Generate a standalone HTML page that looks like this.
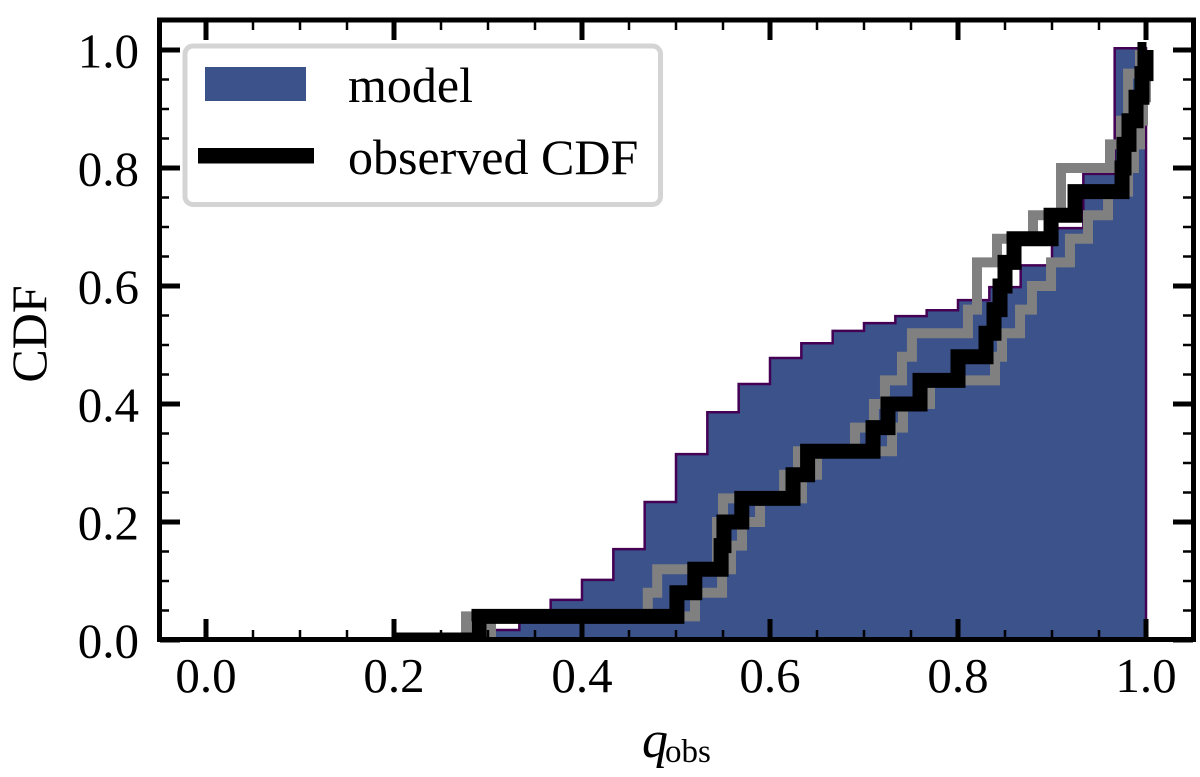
<!DOCTYPE html>
<html lang="en">
<head>
<meta charset="utf-8">
<title>CDF of q_obs</title>
<style>
html,body{margin:0;padding:0;background:#fff;}
svg{display:block;font-family:"Liberation Serif",serif;}
</style>
</head>
<body>
<svg id="chart" xmlns="http://www.w3.org/2000/svg" width="1200" height="777" viewBox="0 0 1200 777">
  <defs>
    <clipPath id="plot-clip"><rect x="160" y="20" width="1033" height="620"/></clipPath>
  </defs>
  <rect x="0" y="0" width="1200" height="777" fill="#fff"/>
  <g id="marks" clip-path="url(#plot-clip)"></g>
  <g id="ticks"></g>
  <rect x="159.5" y="20" width="1034" height="619.5" fill="none" stroke="#000" stroke-width="5"/>
  <g id="tick-labels" font-size="49" fill="#000"></g>
  <text transform="translate(46,334) rotate(-90)" text-anchor="middle" font-size="50" fill="#000">CDF</text>
  <text x="642" y="757" font-size="52" font-style="italic" fill="#000">q</text>
  <text x="665" y="762" font-size="33" fill="#000">obs</text>
  <g>
    <rect x="185" y="46" width="475.5" height="158.5" rx="8" ry="8" fill="#fff" stroke="#d4d4d4" stroke-width="5"/>
    <rect x="205" y="67" width="101" height="34" fill="#3b528b"/>
    <text x="348" y="102" font-size="50" fill="#000">model</text>
    <rect x="198" y="148" width="116" height="15.5" fill="#000"/>
    <text x="348" y="174" font-size="50" fill="#000">observed CDF</text>
  </g>
</svg>
<script>
const binEdgeCount = 30;
const binStart = 0;
const binEnd = 1;
const modelCdf = [0,0,0,0,0,0,0,0,0,0.017,0.04,0.068,0.102,0.154,0.234,0.315,0.386,0.434,0.478,0.503,0.524,0.537,0.549,0.559,0.576,0.598,0.635,0.698,0.79,1.003];
const cdfLevels = [0.04,0.08,0.12,0.16,0.20,0.24,0.28,0.32,0.36,0.40,0.44,0.48,0.52,0.56,0.60,0.64,0.68,0.72,0.76,0.80,0.84,0.88,0.92,0.96,1.0];
const observedQ = [0.2904,0.501,0.520,0.548,0.551,0.570,0.6245,0.640,0.7096,0.7255,0.7596,0.800,0.8298,0.8383,0.8447,0.85,0.8596,0.899,0.9245,0.9745,0.9766,0.9819,0.9894,0.9957,1.0];
const upperBoundQ = [0.2766,0.470,0.480,0.5436,0.5436,0.55,0.615,0.6298,0.6904,0.7106,0.7223,0.7404,0.751,0.8106,0.8202,0.8202,0.8415,0.8798,0.9096,0.9096,0.9617,0.9734,0.9809,0.9809,0.9936];
const lowerBoundQ = [0.3032,0.5202,0.549,0.5585,0.5702,0.5894,0.634,0.65,0.7298,0.7415,0.7702,0.8394,0.8468,0.866,0.8787,0.899,0.9191,0.9383,0.9596,0.9809,0.9872,0.9936,0.9968,0.9999,1.0];
const observedStart = 0.2;
const observedTipQ = 0.9957;
const observedTipTop = 1.0136;
const xMajorTicks = [0,0.2,0.4,0.6,0.8,1.0];
const xMinorTicks = [0.05,0.1,0.15,0.25,0.3,0.35,0.45,0.5,0.55,0.65,0.7,0.75,0.85,0.9,0.95,1.05];
const yMajorTicks = [0,0.2,0.4,0.6,0.8,1.0];
const yMinorTicks = [0.05,0.1,0.15,0.25,0.3,0.35,0.45,0.5,0.55,0.65,0.7,0.75,0.85,0.9,0.95];
const xTickLabels = ["0.0","0.2","0.4","0.6","0.8","1.0"];
const yTickLabels = ["0.0","0.2","0.4","0.6","0.8","1.0"];

const SVGNS = "http://www.w3.org/2000/svg";
function xScale(v){ return 206 + 940 * v; }
function yScale(v){ return 640 - 590 * v; }

function makeEl(tag, attrs, parent){
  const el = document.createElementNS(SVGNS, tag);
  for (const k in attrs) el.setAttribute(k, attrs[k]);
  parent.appendChild(el);
  return el;
}

function stepPath(xs, ys, startX){
  let d = "M" + xScale(startX) + " " + yScale(0);
  for (let i = 0; i < xs.length; i++){
    const prev = i === 0 ? 0 : ys[i - 1];
    d += "L" + xScale(xs[i]) + " " + yScale(prev);
    d += "L" + xScale(xs[i]) + " " + yScale(ys[i]);
  }
  return d;
}

const marks = document.getElementById("marks");
const ticks = document.getElementById("ticks");
const labels = document.getElementById("tick-labels");

// model histogram
const binWidth = (binEnd - binStart) / binEdgeCount;
let histD = "M" + xScale(binStart) + " " + yScale(0);
modelCdf.forEach(function(v, k){
  const left = binStart + k * binWidth;
  histD += "L" + xScale(left) + " " + yScale(v);
  histD += "L" + xScale(left + binWidth) + " " + yScale(v);
});
histD += "L" + xScale(binEnd) + " " + yScale(0) + "Z";
const hist = makeEl("path", {d: histD, fill: "#3b528b", stroke: "#440154", "stroke-width": 2.5, "stroke-linejoin": "miter"}, marks);



// bounds
const upper = makeEl("path", {d: stepPath(upperBoundQ, cdfLevels, upperBoundQ[0]), fill: "none", stroke: "#808080", "stroke-width": 10, "stroke-linejoin": "miter"}, marks);


const lower = makeEl("path", {d: stepPath(lowerBoundQ, cdfLevels, lowerBoundQ[0]), fill: "none", stroke: "#808080", "stroke-width": 10, "stroke-linejoin": "miter"}, marks);



// ticks (over histogram and bounds, below the observed line)
function addTick(x1, y1, x2, y2, w, name){
  const t = makeEl("line", {x1: x1, y1: y1, x2: x2, y2: y2, stroke: "#000", "stroke-width": w}, ticks);
  
  
}
xMajorTicks.forEach(function(v){
  addTick(xScale(v), 640, xScale(v), 619, 5, 'x-major-tick');
  addTick(xScale(v), 20, xScale(v), 40, 5, 'x-major-tick-top');
});
xMinorTicks.forEach(function(v){
  addTick(xScale(v), 640, xScale(v), 630, 2.5, 'x-minor-tick');
  addTick(xScale(v), 20, xScale(v), 30, 2.5, 'x-minor-tick-top');
});
yMajorTicks.forEach(function(v){
  addTick(160, yScale(v), 180, yScale(v), 5, 'y-major-tick');
  addTick(1193, yScale(v), 1173, yScale(v), 5, 'y-major-tick-right');
});
yMinorTicks.forEach(function(v){
  addTick(160, yScale(v), 169, yScale(v), 2.5, 'y-minor-tick');
  addTick(1193, yScale(v), 1183, yScale(v), 2.5, 'y-minor-tick-right');
});

// observed CDF
const observed = makeEl("path", {d: stepPath(observedQ, cdfLevels, observedStart), fill: "none", stroke: "#000", "stroke-width": 15, "stroke-linejoin": "miter", "stroke-miterlimit": 2}, marks);


const tip = makeEl("line", {x1: xScale(observedTipQ), y1: yScale(cdfLevels[23]), x2: xScale(observedTipQ), y2: yScale(observedTipTop), stroke: "#000", "stroke-width": 9}, marks);



// tick labels
xMajorTicks.forEach(function(v, i){
  const t = makeEl("text", {x: xScale(v), y: 692, "text-anchor": "middle"}, labels);
  t.textContent = xTickLabels[i];
  
  
});
yMajorTicks.forEach(function(v, i){
  const t = makeEl("text", {x: 139, y: yScale(v) + 17.5, "text-anchor": "end"}, labels);
  t.textContent = yTickLabels[i];
  
  
});
</script>
</body>
</html>
